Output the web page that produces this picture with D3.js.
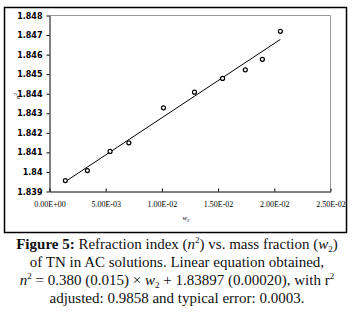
<!DOCTYPE html>
<html><head><meta charset="utf-8">
<script src="https://cdnjs.cloudflare.com/ajax/libs/d3/7.8.5/d3.min.js"></script>
<style>body{margin:0;background:#fff}svg{display:block}</style>
</head><body>
<script>
const xValues = [0.00141, 0.00337, 0.00539, 0.00706, 0.01014, 0.0129, 0.0154, 0.01742, 0.01894, 0.02054];
const yValues = [1.83956, 1.84007, 1.84105, 1.84149, 1.84328, 1.84408, 1.84478, 1.84522, 1.84576, 1.84719];
const xTicks = [0, 0.005, 0.01, 0.015, 0.02, 0.025];
const xTickLabels = ["0.00E+00", "5.00E-03", "1.00E-02", "1.50E-02", "2.00E-02", "2.50E-02"];
const yTicks = [1.839, 1.84, 1.841, 1.842, 1.843, 1.844, 1.845, 1.846, 1.847, 1.848];
const yTickLabels = ["1.839", "1.84", "1.841", "1.842", "1.843", "1.844", "1.845", "1.846", "1.847", "1.848"];
const fitSlope = [0.380];
const fitIntercept = [1.83897];

const W = 354, H = 313;
const svg = d3.select("body").append("svg").attr("width", W).attr("height", H);
const L = 49.5, R = 330.5, T = 15.5, B = 191.5;
const x = d3.scaleLinear().domain([0, 0.025]).range([L, R]);
const y = d3.scaleLinear().domain([1.839, 1.848]).range([B, T]);

// outer frame
svg.append("rect").attr("x", 4.5).attr("y", 7.5).attr("width", 342).attr("height", 225)
  .attr("fill", "none").attr("stroke", "#000").attr("stroke-width", 1.5);
// plot area border (gray top/right)
svg.append("path").attr("d", `M${L},${T}H${R}V${B}`).attr("fill", "none").attr("stroke", "#999").attr("stroke-width", 1);

// y axis
const ya = svg.append("g").attr("transform", `translate(${L},0)`)
  .call(d3.axisLeft(y).tickValues(yTicks).tickFormat((d, i) => yTickLabels[i]).tickSize(3).tickSizeOuter(0));
ya.select(".domain").attr("stroke", "#000");
ya.selectAll("text").attr("font-family", "DejaVu Sans, sans-serif").attr("font-weight", "bold")
  .attr("font-size", 8).attr("fill", "#000").attr("dx", -1);

// x axis
const xa = svg.append("g").attr("transform", `translate(0,${B})`)
  .call(d3.axisBottom(x).tickValues(xTicks).tickFormat((d, i) => xTickLabels[i]).tickSize(-3).tickSizeOuter(0));
xa.select(".domain").attr("stroke", "#000");
xa.selectAll("text").attr("font-family", "Liberation Serif, serif")
  .attr("font-size", 8).attr("fill", "#000").attr("y", 10);

// fit line
const xr = d3.extent(xValues);
svg.append("line")
  .attr("x1", x(xr[0])).attr("y1", y(fitIntercept[0] + fitSlope[0] * xr[0]))
  .attr("x2", x(xr[1])).attr("y2", y(fitIntercept[0] + fitSlope[0] * xr[1]))
  .attr("stroke", "#000").attr("stroke-width", 1);

// points
svg.append("g").selectAll("circle").data(xValues).join("circle")
  .attr("cx", d => x(d)).attr("cy", (d, i) => y(yValues[i])).attr("r", 2)
  .attr("fill", "#fff").attr("stroke", "#000").attr("stroke-width", 1.2);

// axis titles
const yt = svg.append("text").attr("transform", "translate(20,96) rotate(-90)")
  .attr("text-anchor", "middle").attr("font-family", "Liberation Serif, serif").attr("font-size", 7);
yt.append("tspan").attr("font-style", "italic").text("n");
yt.append("tspan").attr("font-size", 5).attr("dy", -3).text("2");

const xt = svg.append("text").attr("x", 186).attr("y", 220)
  .attr("text-anchor", "middle").attr("font-family", "Liberation Serif, serif").attr("font-size", 7);
xt.append("tspan").attr("font-style", "italic").text("w");
xt.append("tspan").attr("font-size", 5).attr("dy", 1.5).text("2");

// caption
const cap = svg.append("g").attr("font-family", "Liberation Serif, serif").attr("font-size", 15).attr("fill", "#111");
function line(yy, parts) {
  const t = cap.append("text").attr("x", 177).attr("y", yy).attr("text-anchor", "middle");
  parts.forEach(p => {
    const s = t.append("tspan").text(p.t);
    if (p.b) s.attr("font-weight", "bold");
    if (p.i) s.attr("font-style", "italic");
    if (p.sup) s.attr("font-size", 9).attr("dy", -6);
    if (p.sub) s.attr("font-size", 9).attr("dy", 3);
    if (p.dy) s.attr("dy", p.dy);
  });
}
line(249, [{t:"Figure 5:", b:true}, {t:" Refraction index ("}, {t:"n", i:true}, {t:"2", sup:true}, {t:")", dy:6}, {t:" vs. mass fraction ("}, {t:"w", i:true}, {t:"2", sub:true}, {t:")", dy:-3}]);
line(267, [{t:"of TN in AC solutions. Linear equation obtained,"}]);
line(285, [{t:"n", i:true}, {t:"2", sup:true}, {t:" = 0.380 (0.015) × ", dy:6}, {t:"w", i:true}, {t:"2", sub:true}, {t:" + 1.83897 (0.00020), with r", dy:-3}, {t:"2", sup:true}]);
line(303, [{t:"adjusted: 0.9858 and typical error: 0.0003."}]);
</script>
</body></html>
